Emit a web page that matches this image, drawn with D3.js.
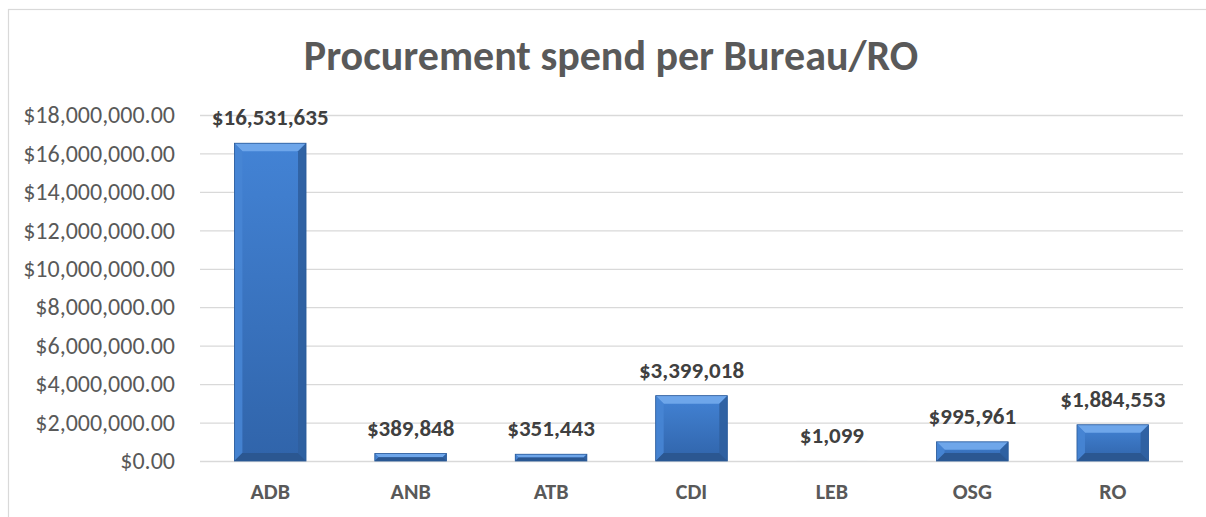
<!DOCTYPE html>
<html>
<head>
<meta charset="utf-8">
<script src="https://cdn.jsdelivr.net/npm/d3@7"></script>
<style>
  body { margin: 0; background: #fff; }
  svg { display: block; font-family: Carlito, Calibri, Lato, sans-serif; }
</style>
</head>
<body>
<svg id="chart"></svg>
<script>
const categories = ["ADB", "ANB", "ATB", "CDI", "LEB", "OSG", "RO"];
const spend = [16531635, 389848, 351443, 3399018, 1099, 995961, 1884553];
const yTicks = [0, 2000000, 4000000, 6000000, 8000000, 10000000, 12000000, 14000000, 16000000, 18000000];
const chartTitle = "Procurement spend per Bureau/RO";

const width = 1206, height = 517;
const svg = d3.select("#chart").attr("width", width).attr("height", height);

// cadre du graphique
svg.append("rect")
    .attr("x", 8.5).attr("y", 9.5)
    .attr("width", width + 10).attr("height", height + 10)
    .attr("fill", "#fff").attr("stroke", "#d9d9d9").attr("stroke-width", 1.2);

const plot = { left: 200, right: 1183, top: 115, bottom: 461 };

const x = d3.scaleBand()
    .domain(categories)
    .range([plot.left, plot.right])
    .paddingInner(0.49).paddingOuter(0.245);

const y = d3.scaleLinear()
    .domain([0, 18000000])
    .range([plot.bottom, plot.top]);

// titre
svg.append("text")
    .attr("x", 611)
    .attr("y", 70)
    .attr("text-anchor", "middle")
    .attr("font-size", 42)
    .attr("font-weight", "bold")
    .attr("fill", "#595959")
    .text(chartTitle);

// grille
const yGrid = d3.axisLeft(y).tickValues(yTicks).tickSize(-(plot.right - plot.left)).tickFormat("");
svg.append("g")
    .attr("class", "y-grid")
    .attr("transform", `translate(${plot.left},0)`)
    .call(yGrid)
    .call(g => g.select(".domain").remove())
    .call(g => g.selectAll("line").attr("stroke", "#d9d9d9").attr("stroke-width", 1.3));

// axe Y
const fmt = d => "$" + d3.format(",.2f")(d);
svg.append("g")
    .attr("class", "y-axis")
    .attr("transform", `translate(${plot.left},0)`)
    .call(d3.axisLeft(y).tickValues(yTicks).tickSize(0).tickPadding(25).tickFormat(fmt))
    .call(g => g.select(".domain").remove())
    .call(g => g.selectAll("text")
        .attr("font-size", 24)
        .attr("fill", "#595959")
        .attr("font-family", "Carlito, Calibri, Lato, sans-serif"));

// axe X
svg.append("g")
    .attr("class", "x-axis")
    .attr("transform", `translate(0,${plot.bottom})`)
    .call(d3.axisBottom(x).tickSize(0).tickPadding(22))
    .call(g => g.select(".domain").remove())
    .call(g => g.selectAll("text")
        .attr("font-size", 22)
        .attr("font-weight", "bold")
        .attr("fill", "#595959")
        .attr("font-family", "Carlito, Calibri, Lato, sans-serif"));

// dégradé des barres
const defs = svg.append("defs");
const grad = defs.append("linearGradient").attr("id", "barGrad")
    .attr("x1", 0).attr("y1", 0).attr("x2", 0).attr("y2", 1);
grad.append("stop").attr("offset", "0%").attr("stop-color", "#4383d5");
grad.append("stop").attr("offset", "100%").attr("stop-color", "#3064aa");

const bars = svg.append("g").attr("class", "bars");
const bevel = 8;

categories.forEach((c, i) => {
    const x0 = x(c), x1 = x(c) + x.bandwidth();
    const y0 = y(spend[i]), y1 = y(0);
    const h = y1 - y0;
    const b = Math.min(bevel, h / 2);
    const g = bars.append("g");
    g.append("rect")
        .attr("x", x0).attr("y", y0)
        .attr("width", x1 - x0).attr("height", h)
        .attr("fill", "url(#barGrad)");
    if (h < 0.5) return;
    // biseau haut
    g.append("polygon")
        .attr("points", [[x0, y0], [x1, y0], [x1 - b, y0 + b], [x0 + b, y0 + b]].join(" "))
        .attr("fill", "#6ea6ea");
    // biseau gauche
    g.append("polygon")
        .attr("points", [[x0, y0], [x0 + b, y0 + b], [x0 + b, y1 - b], [x0, y1]].join(" "))
        .attr("fill", "#4785d4").attr("opacity", 0.9);
    // biseau droit
    g.append("polygon")
        .attr("points", [[x1, y0], [x1 - b, y0 + b], [x1 - b, y1 - b], [x1, y1]].join(" "))
        .attr("fill", "#2f5f9f").attr("opacity", 0.9);
    // biseau bas
    g.append("polygon")
        .attr("points", [[x0, y1], [x0 + b, y1 - b], [x1 - b, y1 - b], [x1, y1]].join(" "))
        .attr("fill", "#2b5791");
    g.append("rect")
        .attr("x", x0).attr("y", y0)
        .attr("width", x1 - x0).attr("height", h)
        .attr("fill", "none").attr("stroke", "#2a5a99").attr("stroke-width", 0.8);
});

// étiquettes de données
svg.append("g").selectAll("text")
    .data(categories)
    .enter().append("text")
    .attr("x", d => x(d) + x.bandwidth() / 2)
    .attr("y", (d, i) => y(spend[i]) - 18)
    .attr("text-anchor", "middle")
    .attr("font-size", 23)
    .attr("font-weight", "bold")
    .attr("fill", "#404040")
    .text((d, i) => "$" + d3.format(",")(spend[i]));
</script>
</body>
</html>
